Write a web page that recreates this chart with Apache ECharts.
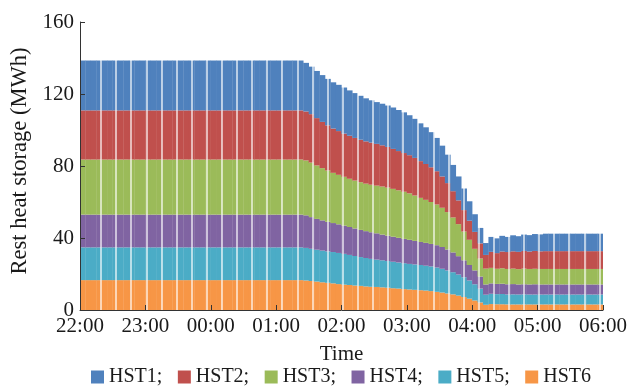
<!DOCTYPE html>
<html>
<head>
<meta charset="utf-8">
<script src="https://cdn.jsdelivr.net/npm/echarts@6/dist/echarts.min.js"></script>
<style>
  html, body { margin: 0; padding: 0; background: #fff; }
  #chart { width: 630px; height: 387px; }
</style>
</head>
<body>
<div id="chart"></div>
<script>
// Remaining heat stored in each tank (MWh), one value per 5-minute slot from 22:00 to 05:55
const hst1 = [
  27.7, 27.7, 27.7, 27.7, 27.7, 27.7, 27.7, 27.7, 27.7, 27.7,
  27.7, 27.7, 27.7, 27.7, 27.7, 27.7, 27.7, 27.7, 27.7, 27.7,
  27.7, 27.7, 27.7, 27.7, 27.7, 27.7, 27.7, 27.7, 27.7, 27.7,
  27.7, 27.7, 27.7, 27.7, 27.7, 27.7, 27.7, 27.7, 27.7, 27.7, 27.7,
  27.0, 26.4, 26.2, 26.0, 25.8, 25.7, 25.7, 25.6, 25.2, 24.9,
  24.4, 23.9, 23.5, 23.2, 23.1, 23.0, 23.0, 22.8, 22.6, 22.2,
  21.7, 21.0, 20.4, 19.5, 18.5, 17.1, 15.8, 14.6, 13.3, 12.0,
  10.8, 9.8, 8.6, 6.6, 8.3, 8.2, 8.7, 8.4, 8.9, 8.7,
  9.1, 9.1, 9.4, 9.4,
  9.7, 9.7, 9.7, 9.7, 9.7, 9.7, 9.7, 9.7, 9.7, 9.7, 9.7
];
const hst2 = [
  27.3, 27.3, 27.3, 27.3, 27.3, 27.3, 27.3, 27.3, 27.3, 27.3,
  27.3, 27.3, 27.3, 27.3, 27.3, 27.3, 27.3, 27.3, 27.3, 27.3,
  27.3, 27.3, 27.3, 27.3, 27.3, 27.3, 27.3, 27.3, 27.3, 27.3,
  27.3, 27.3, 27.3, 27.3, 27.3, 27.3, 27.3, 27.3, 27.3, 27.3, 27.3,
  27.2, 26.9, 26.3, 25.7, 25.1, 24.6, 24.3, 24.0, 23.9, 23.7,
  23.6, 23.5, 23.4, 23.2, 22.9, 22.6, 22.2, 21.8, 21.5, 21.2,
  20.9, 20.4, 19.9, 19.3, 18.5, 17.4, 16.1, 14.6, 13.2, 11.9,
  10.6, 9.4, 8.4, 7.6, 8.9, 8.7, 9.3, 9.4, 9.6, 9.6,
  9.8, 9.7, 9.9, 9.8,
  9.9, 9.9, 9.9, 9.9, 9.9, 9.9, 9.9, 9.9, 9.9, 9.9, 9.9
];
const hst3 = [
  30.6, 30.6, 30.6, 30.6, 30.6, 30.6, 30.6, 30.6, 30.6, 30.6,
  30.6, 30.6, 30.6, 30.6, 30.6, 30.6, 30.6, 30.6, 30.6, 30.6,
  30.6, 30.6, 30.6, 30.6, 30.6, 30.6, 30.6, 30.6, 30.6, 30.6,
  30.6, 30.6, 30.6, 30.6, 30.6, 30.6, 30.6, 30.6, 30.6, 30.6, 30.6,
  30.5, 30.3, 29.7, 29.0, 28.5, 27.9, 27.5, 27.1, 26.8, 26.6,
  26.5, 26.4, 26.4, 26.5, 26.7, 26.7, 26.6, 26.4, 26.2, 25.8,
  25.2, 24.5, 23.9, 23.3, 22.6, 21.8, 20.8, 19.4, 17.8, 16.0,
  14.0, 12.0, 10.0, 8.8, 8.6, 8.4, 8.6, 8.5, 8.6, 8.5,
  8.7, 8.6, 8.6, 8.6,
  8.6, 8.6, 8.6, 8.6, 8.6, 8.6, 8.6, 8.6, 8.6, 8.6, 8.6
];
const hst4 = [
  18.2, 18.2, 18.2, 18.2, 18.2, 18.2, 18.2, 18.2, 18.2, 18.2,
  18.2, 18.2, 18.2, 18.2, 18.2, 18.2, 18.2, 18.2, 18.2, 18.2,
  18.2, 18.2, 18.2, 18.2, 18.2, 18.2, 18.2, 18.2, 18.2, 18.2,
  18.2, 18.2, 18.2, 18.2, 18.2, 18.2, 18.2, 18.2, 18.2, 18.2, 18.2,
  18.1, 17.6, 17.1, 16.8, 16.4, 16.1, 15.9, 15.7, 15.5, 15.3,
  15.1, 14.9, 14.8, 14.6, 14.3, 14.1, 13.9, 13.7, 13.5, 13.4,
  13.1, 12.8, 12.7, 12.5, 12.4, 12.1, 11.6, 11.0, 10.2, 9.4,
  8.6, 7.7, 6.7, 5.7, 5.8, 5.7, 5.7, 5.7, 5.7, 5.6,
  5.6, 5.6, 5.7, 5.6,
  5.6, 5.6, 5.6, 5.6, 5.6, 5.6, 5.6, 5.6, 5.6, 5.6, 5.6
];
const hst5 = [
  18.2, 18.2, 18.2, 18.2, 18.2, 18.2, 18.2, 18.2, 18.2, 18.2,
  18.2, 18.2, 18.2, 18.2, 18.2, 18.2, 18.2, 18.2, 18.2, 18.2,
  18.2, 18.2, 18.2, 18.2, 18.2, 18.2, 18.2, 18.2, 18.2, 18.2,
  18.2, 18.2, 18.2, 18.2, 18.2, 18.2, 18.2, 18.2, 18.2, 18.2, 18.2,
  18.1, 17.9, 17.7, 17.6, 17.5, 17.4, 17.3, 17.1, 16.7, 16.4,
  16.0, 15.8, 15.5, 15.2, 15.0, 14.8, 14.7, 14.5, 14.4, 14.2,
  14.1, 14.0, 13.8, 13.7, 13.5, 13.2, 12.8, 12.3, 11.7, 11.0,
  10.1, 9.0, 7.7, 5.6, 5.7, 5.6, 5.7, 5.5, 5.6, 5.5,
  5.6, 5.5, 5.5, 5.5,
  5.5, 5.5, 5.5, 5.5, 5.5, 5.5, 5.5, 5.5, 5.5, 5.5, 5.5
];
const hst6 = [
  16.6, 16.6, 16.6, 16.6, 16.6, 16.6, 16.6, 16.6, 16.6, 16.6,
  16.6, 16.6, 16.6, 16.6, 16.6, 16.6, 16.6, 16.6, 16.6, 16.6,
  16.6, 16.6, 16.6, 16.6, 16.6, 16.6, 16.6, 16.6, 16.6, 16.6,
  16.6, 16.6, 16.6, 16.6, 16.6, 16.6, 16.6, 16.6, 16.6, 16.6, 16.6,
  16.4, 16.1, 15.8, 15.4, 15.1, 14.8, 14.4, 14.1, 13.9, 13.6,
  13.4, 13.1, 12.9, 12.8, 12.6, 12.4, 12.1, 11.9, 11.6, 11.4,
  11.2, 11.0, 10.8, 10.5, 10.1, 9.7, 9.2, 8.7, 8.0, 7.2,
  6.3, 5.3, 4.2, 2.9, 3.3, 3.2, 3.2, 3.1, 3.1, 3.1,
  3.1, 3.1, 3.1, 3.1,
  3.1, 3.1, 3.1, 3.1, 3.1, 3.1, 3.1, 3.1, 3.1, 3.1, 3.1
];

const seriesNames = ['HST1', 'HST2', 'HST3', 'HST4', 'HST5', 'HST6'];
const seriesData = [hst1, hst2, hst3, hst4, hst5, hst6];
const seriesColors = ['#4F81BD', '#C0504D', '#9BBB59', '#8064A2', '#4BACC6', '#F79646'];

// Hour tick labels along the time axis (minutes 0, 60, ... 480 after 22:00)
const hourLabels = ['22:00', '23:00', '00:00', '01:00', '02:00', '03:00', '04:00', '05:00', '06:00'];
const spanMinutes = 480;
const slotMinutes = 5;

function clock(min) {
  const total = (22 * 60 + min) % (24 * 60);
  const h = Math.floor(total / 60), m = total % 60;
  return String(h).padStart(2, '0') + ':' + String(m).padStart(2, '0');
}
const slots = hst1.map((_, i) => clock(i * slotMinutes));

// Thin light separators laid across the columns (positions in minutes after 22:00)
const stripeStart = 19.3, stripeStep = 13.86;
const stripes = [];
for (let m = stripeStart; m < spanMinutes; m += stripeStep) stripes.push({ xAxis: m });

const serif = '"Liberation Serif", "Times New Roman", serif';
const ink = '#1a1a1a';

const chart = echarts.init(document.getElementById('chart'), null, { renderer: 'canvas' });

const series = seriesNames.map((name, i) => ({
  name,
  type: 'bar',
  stack: 'heat',
  xAxisIndex: 0,
  yAxisIndex: 0,
  // slightly wider than the slot so neighbouring columns join without seams
  barWidth: '106%',
  barGap: '0%',
  itemStyle: { color: seriesColors[i] },
  emphasis: { disabled: true },
  data: seriesData[i]
})).reverse();

series.push({
  name: 'separators',
  type: 'line',
  xAxisIndex: 1,
  yAxisIndex: 0,
  data: [],
  silent: true,
  markLine: {
    silent: true,
    z: 5,
    symbol: ['none', 'none'],
    label: { show: false },
    emphasis: { disabled: true },
    lineStyle: { color: 'rgba(255,255,255,0.82)', width: 1.5, type: 'solid' },
    data: stripes
  }
});

chart.setOption({
  animation: false,
  backgroundColor: '#fff',
  textStyle: { fontFamily: serif },
  grid: { left: 80, right: 27, top: 22, bottom: 77, containLabel: false },
  legend: {
    data: seriesNames,
    left: 86,
    top: 362,
    icon: 'rect',
    itemWidth: 13,
    itemHeight: 13,
    itemGap: 15.5,
    formatter: name => (name === 'HST6' ? name : name + ';'),
    textStyle: { fontFamily: serif, fontSize: 20, color: ink }
  },
  xAxis: [
    {
      type: 'category',
      data: slots,
      boundaryGap: true,
      show: false
    },
    {
      type: 'value',
      min: 0,
      max: spanMinutes,
      interval: 60,
      position: 'bottom',
      z: 6,
      name: 'Time',
      nameLocation: 'middle',
      nameGap: 34,
      nameTextStyle: { fontFamily: serif, fontSize: 21, color: ink },
      axisLine: { show: true, lineStyle: { color: '#333', width: 1 } },
      axisTick: { show: true, inside: true, length: 5, lineStyle: { color: '#333' } },
      axisLabel: {
        fontFamily: serif, fontSize: 21, color: ink, margin: 6,
        formatter: v => hourLabels[Math.round(v / 60)]
      },
      splitLine: { show: false }
    }
  ],
  yAxis: {
    type: 'value',
    min: 0,
    max: 160,
    interval: 40,
    z: 6,
    name: 'Rest heat storage (MWh)',
    nameLocation: 'middle',
    nameGap: 39,
    nameTextStyle: { fontFamily: serif, fontSize: 22.5, color: ink, padding: [0, 0, 0, 10] },
    axisLine: { show: true, lineStyle: { color: '#333', width: 1 } },
    axisTick: { show: true, inside: true, length: 5, lineStyle: { color: '#333' } },
    axisLabel: { fontFamily: serif, fontSize: 21, color: ink, margin: 6 },
    splitLine: { show: false }
  },
  series
});
</script>
</body>
</html>
